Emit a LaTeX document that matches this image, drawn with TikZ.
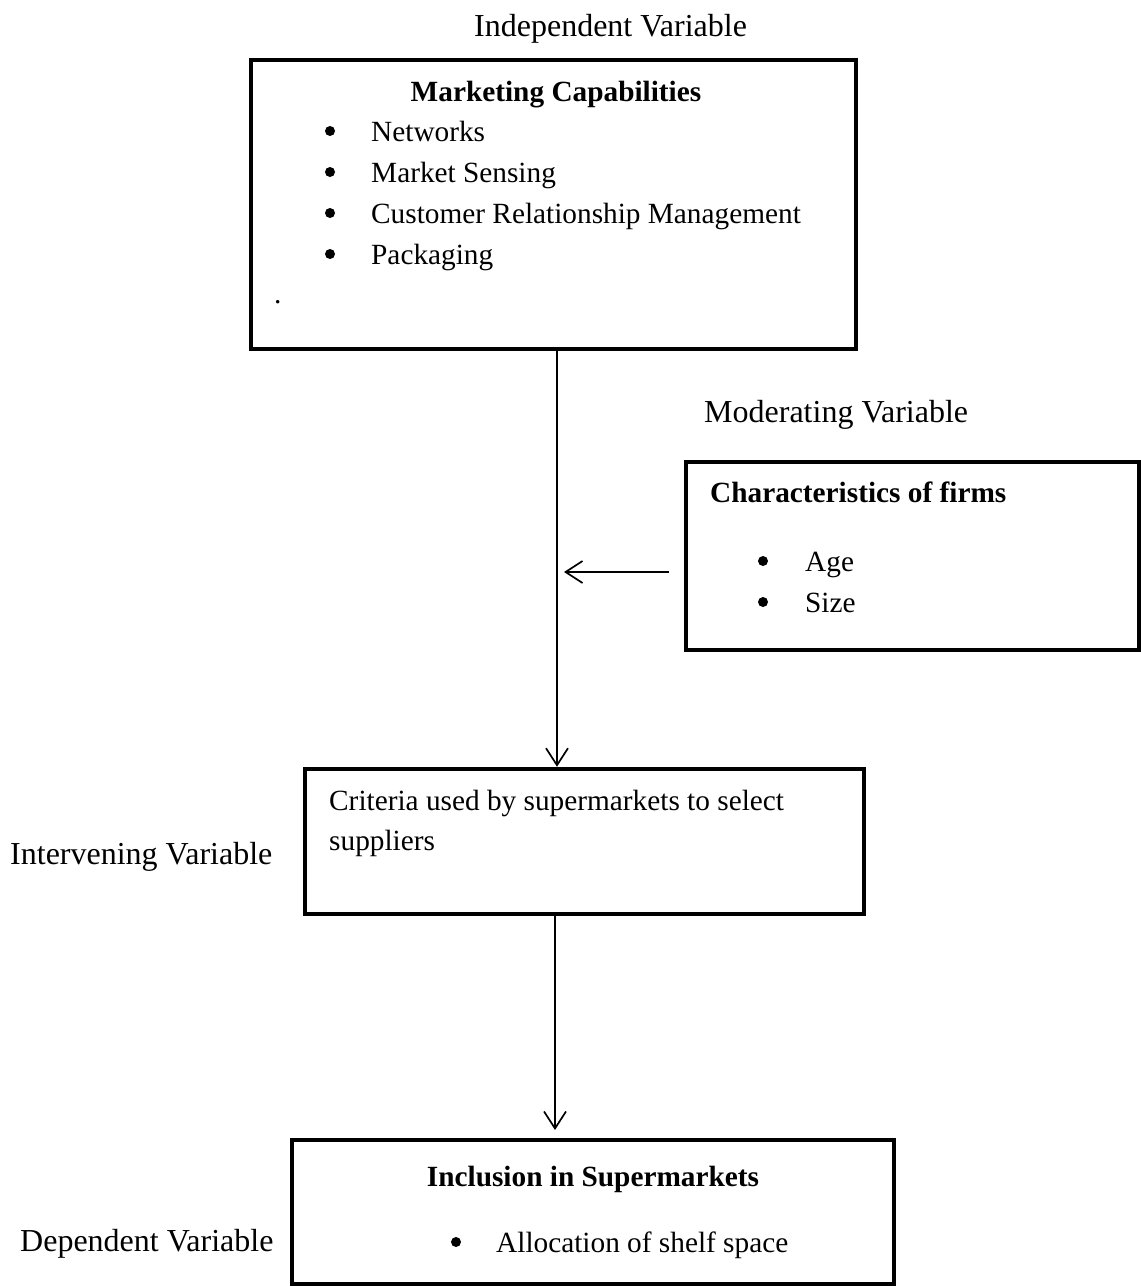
\documentclass[tikz,border=0pt]{standalone}
\usepackage{fontspec}
\setmainfont{Liberation Serif}
\usetikzlibrary{arrows.meta}
\begin{document}
\begin{tikzpicture}[x=1pt,y=-1pt,
  box/.style={draw, line width=4.5pt, rectangle, inner sep=0pt},
  lbl/.style={font=\fontsize{32}{38}\selectfont, inner sep=0pt, anchor=base west},
  txt/.style={font=\fontsize{29.3}{35}\selectfont, inner sep=0pt, anchor=base west},
  hd/.style={font=\fontsize{29.3}{35}\selectfont\bfseries, inner sep=0pt, anchor=base},
  hdw/.style={font=\fontsize{29.3}{35}\selectfont\bfseries, inner sep=0pt, anchor=base west},
  conn/.style={line width=1.7pt, -{Straight Barb[length=17pt,width=22pt]}},
  bul/.style={fill=black}]
\useasboundingbox (0,0) rectangle (1141,1286);
% boxes
\node[box, minimum width=605pt, minimum height=289pt] (top) at (553.5,204.5) {};
\node[box, minimum width=453pt, minimum height=188pt] (mod) at (912.5,556) {};
\node[box, minimum width=559pt, minimum height=145pt] (mid) at (584.5,841.5) {};
\node[box, minimum width=602pt, minimum height=144pt] (bot) at (593,1212) {};
% labels
\node[lbl] (lind) at (474,36) {Independent Variable};
\node[lbl] (lmod) at (704,422) {Moderating Variable};
\node[lbl] (lint) at (10,864) {Intervening Variable};
\node[lbl] (ldep) at (20,1251) {Dependent Variable};
% top box content
\node[hd] (tophd) at (556,101) {Marketing Capabilities};
\fill[bul] (330,131) circle (5pt);
\fill[bul] (330,172) circle (5pt);
\fill[bul] (330,213) circle (5pt);
\fill[bul] (330,254) circle (5pt);
\node[txt] (t1) at (371,141) {Networks};
\node[txt] (t2) at (371,182) {Market Sensing};
\node[txt] (t3) at (371,223) {Customer Relationship Management};
\node[txt] (t4) at (371,264) {Packaging};
\node[txt] (tdot) at (274,303) {.};
% moderating box content
\node[hdw] (modhd) at (710,502) {Characteristics of firms};
\fill[bul] (763,561) circle (5pt);
\fill[bul] (763,602) circle (5pt);
\node[txt] (m1) at (805,571) {Age};
\node[txt] (m2) at (805,612) {Size};
% middle box content
\node[txt] (c1) at (329,810) {Criteria used by supermarkets to select};
\node[txt] (c2) at (329,850) {suppliers};
% bottom box content
\node[hd] (bothd) at (593,1186) {Inclusion in Supermarkets};
\fill[bul] (456,1242) circle (5pt);
\node[txt] (b1) at (496,1252) {Allocation of shelf space};
% connectors
\coordinate (xa) at (557,0);
\coordinate (xb) at (555,0);
\draw[conn] (xa |- top.south) -- (xa |- mid.north);
\coordinate (ma) at (669,572);
\coordinate (mb) at (564,572);
\draw[conn] (ma) -- (mb);
\coordinate (bt) at (555,1130);
\draw[conn] (xb |- mid.south) -- (bt);
\end{tikzpicture}
\end{document}
